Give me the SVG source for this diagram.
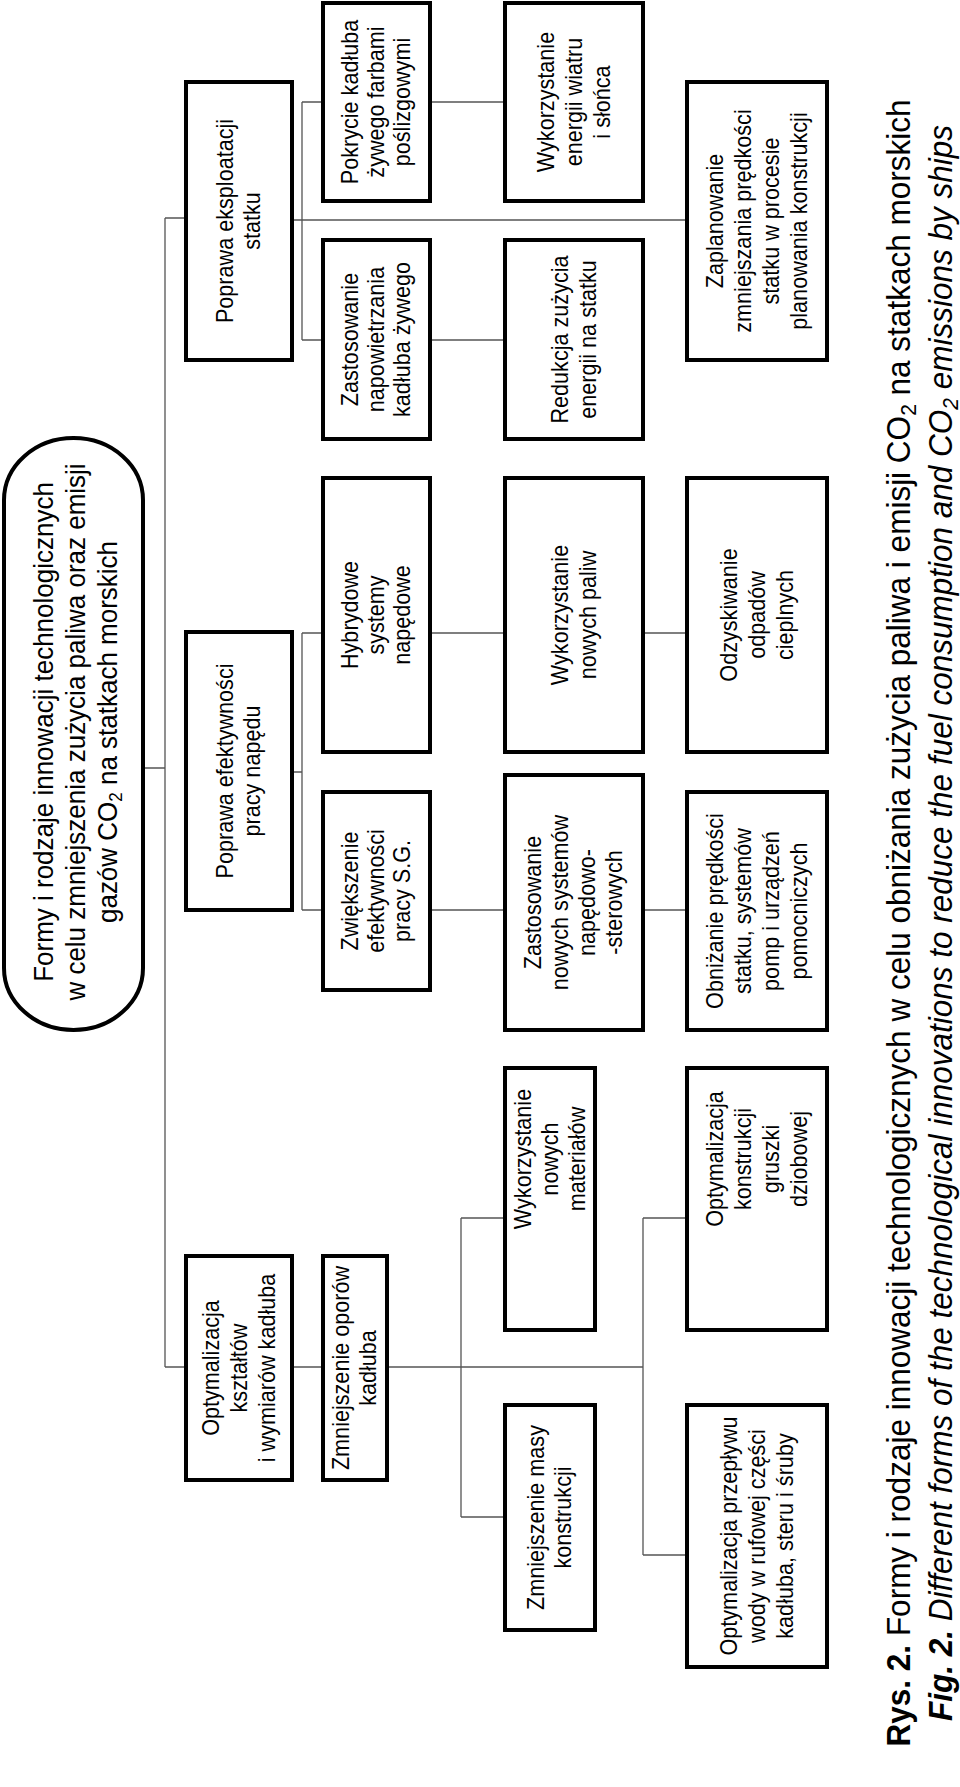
<svg xmlns="http://www.w3.org/2000/svg" width="960" height="1787" viewBox="0 0 960 1787">
<style>
.box{fill:#fff;stroke:#000;stroke-width:4}
.t{font-family:"Liberation Sans",Arial,sans-serif;font-size:23px;fill:#000;text-anchor:middle}
.root{font-size:27.5px}
.c{fill:none;stroke:#555;stroke-width:1.3}
.cap{font-family:"Liberation Sans",Arial,sans-serif;font-size:33px;fill:#000;text-anchor:middle}
</style>
<rect width="960" height="1787" fill="#fff"/>
<g transform="translate(0,1787) rotate(-90)">
<g id="connectors" class="c">
<path d="M420,165H1569 M1569,165V186 M1019,143V165 M420,165V186 M1567,292V687 M1447,302H1685 M1685,302V323 M1447,302V323 M1685,430V505 M1447,430V505 M1015,292V302 M877,302H1154 M1154,302V323 M877,302V323 M1154,430V505 M1154,643V687 M877,430V505 M877,643V687 M420,292V323 M420,387V643 M270,461H569 M569,461V505 M270,461V505 M232,643H569 M569,643V687 M232,643V687"/>
</g>
<g id="root">
<rect class="box" x="757" y="4" width="592" height="139" rx="62" ry="69.5"/>
<text class="t root" transform="translate(1055 0) scale(.945 1)"><tspan x="0" y="53">Formy i rodzaje innowacji technologicznych</tspan><tspan x="0" y="85">w celu zmniejszenia zużycia paliwa oraz emisji</tspan><tspan x="0" y="117">gazów CO<tspan dy="5" font-size="18">2</tspan><tspan dy="-5"> na statkach morskich</tspan></tspan></text>
</g>
<g id="n-eksploatacja">
<rect class="box" x="1427" y="186" width="278" height="106"/>
<text class="t" transform="translate(1566 0) scale(.94 1)"><tspan x="0" y="233.5">Poprawa eksploatacji</tspan><tspan x="0" y="260.5">statku</tspan></text>
</g>
<g id="n-naped">
<rect class="box" x="877" y="186" width="278" height="106"/>
<text class="t" transform="translate(1016 0) scale(.94 1)"><tspan x="0" y="233.5">Poprawa efektywności</tspan><tspan x="0" y="260.5">pracy napędu</tspan></text>
</g>
<g id="n-ksztalty">
<rect class="box" x="307" y="186" width="224" height="106"/>
<text class="t" transform="translate(419 0) scale(.94 1)"><tspan x="0" y="219">Optymalizacja</tspan><tspan x="0" y="247">kształtów</tspan><tspan x="0" y="275">i wymiarów kadłuba</tspan></text>
</g>
<g id="n-pokrycie">
<rect class="box" x="1586" y="323" width="198" height="107"/>
<text class="t" transform="translate(1685 0) scale(.94 1)"><tspan x="0" y="358.5">Pokrycie kadłuba</tspan><tspan x="0" y="384.5">żywego farbami</tspan><tspan x="0" y="410.5">poślizgowymi</tspan></text>
</g>
<g id="n-napowietrzanie">
<rect class="box" x="1348" y="323" width="199" height="107"/>
<text class="t" transform="translate(1447.5 0) scale(.94 1)"><tspan x="0" y="358.5">Zastosowanie</tspan><tspan x="0" y="384.5">napowietrzania</tspan><tspan x="0" y="410.5">kadłuba żywego</tspan></text>
</g>
<g id="n-wiatr">
<rect class="box" x="1586" y="505" width="198" height="138"/>
<text class="t" transform="translate(1685 0) scale(.94 1)"><tspan x="0" y="554">Wykorzystanie</tspan><tspan x="0" y="582">energii wiatru</tspan><tspan x="0" y="610">i słońca</tspan></text>
</g>
<g id="n-redukcja">
<rect class="box" x="1348" y="505" width="199" height="138"/>
<text class="t" transform="translate(1447.5 0) scale(.94 1)"><tspan x="0" y="568">Redukcja zużycia</tspan><tspan x="0" y="596">energii na statku</tspan></text>
</g>
<g id="n-zaplanowanie">
<rect class="box" x="1427" y="687" width="278" height="140"/>
<text class="t" transform="translate(1566 0) scale(.94 1)"><tspan x="0" y="723">Zaplanowanie</tspan><tspan x="0" y="751">zmniejszania prędkości</tspan><tspan x="0" y="779">statku w procesie</tspan><tspan x="0" y="807">planowania konstrukcji</tspan></text>
</g>
<g id="n-hybrydowe">
<rect class="box" x="1035" y="323" width="274" height="107"/>
<text class="t" transform="translate(1172 0) scale(.94 1)"><tspan x="0" y="358.5">Hybrydowe</tspan><tspan x="0" y="384.5">systemy</tspan><tspan x="0" y="410.5">napędowe</tspan></text>
</g>
<g id="n-zwiekszenie">
<rect class="box" x="797" y="323" width="198" height="107"/>
<text class="t" transform="translate(896 0) scale(.94 1)"><tspan x="0" y="358.5">Zwiększenie</tspan><tspan x="0" y="384.5">efektywności</tspan><tspan x="0" y="410.5">pracy S.G.</tspan></text>
</g>
<g id="n-paliwa">
<rect class="box" x="1035" y="505" width="274" height="138"/>
<text class="t" transform="translate(1172 0) scale(.94 1)"><tspan x="0" y="568">Wykorzystanie</tspan><tspan x="0" y="596">nowych paliw</tspan></text>
</g>
<g id="n-sterowe">
<rect class="box" x="757" y="505" width="255" height="138"/>
<text class="t" transform="translate(884.5 0) scale(.94 1)"><tspan x="0" y="541.5">Zastosowanie</tspan><tspan x="0" y="568.5">nowych systemów</tspan><tspan x="0" y="595.5">napędowo-</tspan><tspan x="0" y="622.5">-sterowych</tspan></text>
</g>
<g id="n-odzysk">
<rect class="box" x="1035" y="687" width="274" height="140"/>
<text class="t" transform="translate(1172 0) scale(.94 1)"><tspan x="0" y="737">Odzyskiwanie</tspan><tspan x="0" y="765">odpadów</tspan><tspan x="0" y="793">cieplnych</tspan></text>
</g>
<g id="n-obnizanie">
<rect class="box" x="757" y="687" width="238" height="140"/>
<text class="t" transform="translate(876 0) scale(.94 1)"><tspan x="0" y="723">Obniżanie prędkości</tspan><tspan x="0" y="751">statku, systemów</tspan><tspan x="0" y="779">pomp i urządzeń</tspan><tspan x="0" y="807">pomocniczych</tspan></text>
</g>
<g id="n-opory">
<rect class="box" x="307" y="323" width="224" height="64"/>
<text class="t" transform="translate(419 0) scale(.94 1)"><tspan x="0" y="349.5">Zmniejszenie oporów</tspan><tspan x="0" y="376.5">kadłuba</tspan></text>
</g>
<g id="n-materialy">
<rect class="box" x="457" y="505" width="262" height="90"/>
<text class="t" transform="translate(628 0) scale(.94 1)"><tspan x="0" y="531">Wykorzystanie</tspan><tspan x="0" y="558">nowych</tspan><tspan x="0" y="585">materiałów</tspan></text>
</g>
<g id="n-masa">
<rect class="box" x="157" y="505" width="225" height="90"/>
<text class="t" transform="translate(269.5 0) scale(.94 1)"><tspan x="0" y="544.5">Zmniejszenie masy</tspan><tspan x="0" y="571.5">konstrukcji</tspan></text>
</g>
<g id="n-gruszka">
<rect class="box" x="457" y="687" width="262" height="140"/>
<text class="t" transform="translate(628 0) scale(.94 1)"><tspan x="0" y="723">Optymalizacja</tspan><tspan x="0" y="751">konstrukcji</tspan><tspan x="0" y="779">gruszki</tspan><tspan x="0" y="807">dziobowej</tspan></text>
</g>
<g id="n-przeplyw">
<rect class="box" x="120" y="687" width="262" height="140"/>
<text class="t" transform="translate(251 0) scale(.94 1)"><tspan x="0" y="737">Optymalizacja przepływu</tspan><tspan x="0" y="765">wody w rufowej części</tspan><tspan x="0" y="793">kadłuba, steru i śruby</tspan></text>
</g>
<g id="caption">
<text class="cap" transform="translate(864 0) scale(.955 1)"><tspan x="0" y="910"><tspan font-weight="bold">Rys. 2.</tspan> Formy i rodzaje innowacji technologicznych w celu obniżania zużycia paliwa i emisji CO<tspan dy="6" font-size="22">2</tspan><tspan dy="-6"> na statkach morskich</tspan></tspan></text>
<text class="cap" font-style="italic" transform="translate(864 0) scale(.955 1)"><tspan x="0" y="952"><tspan font-weight="bold">Fig. 2.</tspan> Different forms of the technological innovations to reduce the fuel consumption and CO<tspan dy="6" font-size="22">2</tspan><tspan dy="-6"> emissions by ships</tspan></tspan></text>
</g>
</g>
</svg>
